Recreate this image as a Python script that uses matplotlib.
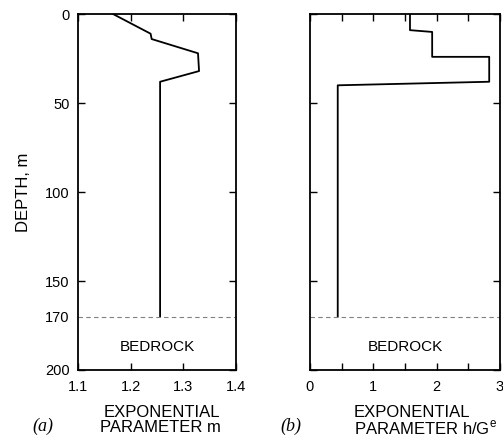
import numpy as np
import matplotlib.pyplot as plt

plt.rcParams['font.family'] = ['Liberation Sans', 'DejaVu Sans']

# profile (a): exponential parameter m vs depth
depth_a = [0, 11, 14, 22, 32, 38, 170]
m_vals = [1.167, 1.238, 1.24, 1.328, 1.33, 1.256, 1.256]

# profile (b): exponential parameter h/G^e vs depth
depth_b = [0, 9, 10, 24, 24, 38, 40, 170]
h_vals = [1.58, 1.58, 1.93, 1.93, 2.83, 2.83, 0.44, 0.44]

bedrock = 170

fig = plt.figure(figsize=(5.03, 4.42), dpi=100)
ax1 = fig.add_axes([0.155, 0.163, 0.314, 0.805])
ax2 = fig.add_axes([0.616, 0.163, 0.378, 0.805])

ax1.plot(m_vals, depth_a, color='black', lw=1.3)
ax2.plot(h_vals, depth_b, color='black', lw=1.3)

for ax in (ax1, ax2):
    ax.set_ylim(200, 0)
    ax.axhline(bedrock, color='gray', lw=0.8, ls=(0, (4, 3)))
    ax.tick_params(direction='in', top=True, right=True, length=5,
                   width=1, labelsize=10.5)
    ax.tick_params(axis='x', pad=7)
    ax.tick_params(axis='y', pad=6)
    for s in ax.spines.values():
        s.set_linewidth(1.3)
    ax.set_yticks([0, 50, 100, 150, 200])

ax1.set_xlim(1.1, 1.4)
ax1.set_xticks([1.1, 1.2, 1.3, 1.4])
ax1.set_xticklabels(['1.1', '1.2', '1.3', '1.4'])
# bedrock depth labelled without a tick mark
ax1.set_yticks([bedrock], minor=True)
ax1.set_yticklabels([str(bedrock)], minor=True)
ax1.tick_params(axis='y', which='minor', length=0, labelsize=10.5, pad=6)
ax1.set_ylabel('DEPTH, m', fontsize=12, labelpad=10)
ax1.text(1.25, 187, 'BEDROCK', ha='center', va='center', fontsize=11)

ax2.set_xlim(0, 3)
ax2.set_xticks([0, 1, 2, 3])
ax2.set_xticks([0.5, 1.5, 2.5], minor=True)
ax2.tick_params(which='minor', direction='in', top=True, length=5, width=1)
ax2.set_yticklabels([])
ax2.text(1.5, 187, 'BEDROCK', ha='center', va='center', fontsize=11)

fig.text(0.321, 0.0667, 'EXPONENTIAL', ha='center', va='center', fontsize=12)
fig.text(0.318, 0.0317, 'PARAMETER m', ha='center', va='center', fontsize=12)
fig.text(0.819, 0.0667, 'EXPONENTIAL', ha='center', va='center', fontsize=12)
fig.text(0.845, 0.0317, 'PARAMETER h/G$^\\mathregular{e}$', ha='center',
         va='center', fontsize=12)
fig.text(0.0845, 0.036, '(a)', ha='center', va='center', fontsize=13,
         family='Liberation Serif', style='italic')
fig.text(0.5785, 0.036, '(b)', ha='center', va='center', fontsize=13,
         family='Liberation Serif', style='italic')

fig.savefig('out.png', dpi=100)
